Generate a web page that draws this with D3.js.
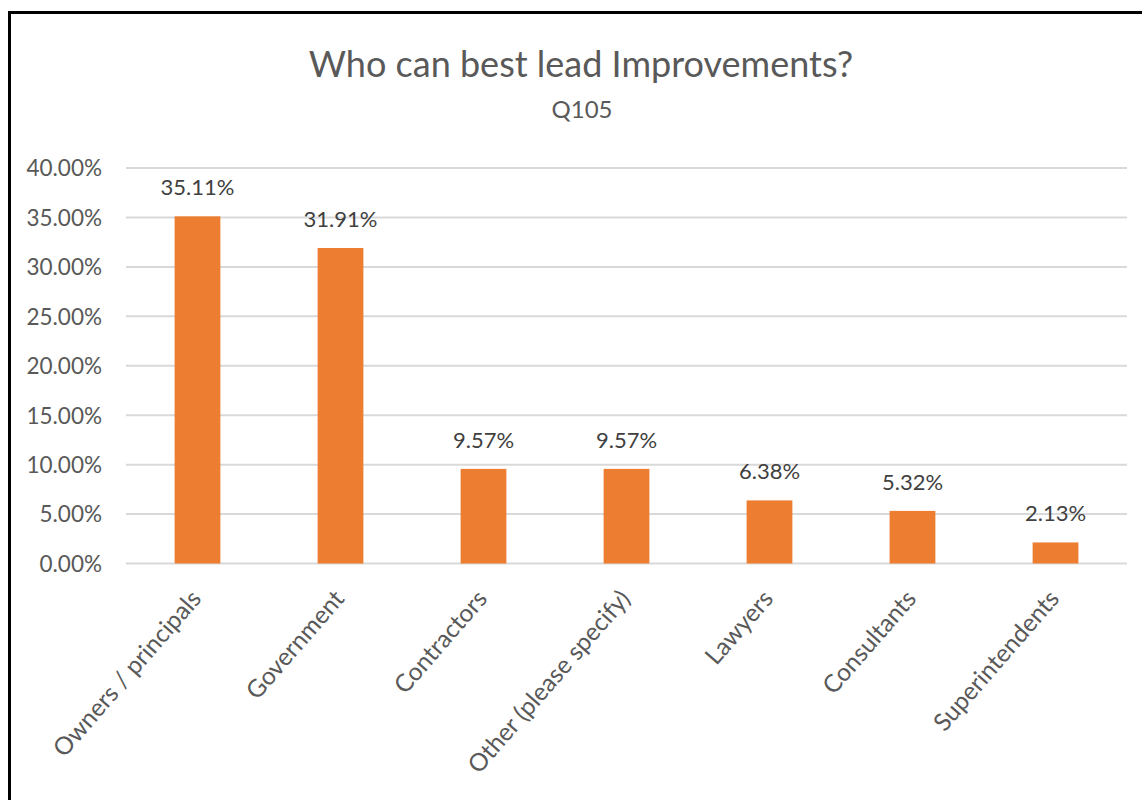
<!DOCTYPE html>
<html><head><meta charset="utf-8">
<script src="https://cdn.jsdelivr.net/npm/d3@7"></script>
<style>body{margin:0;background:#fff;} svg{display:block;}</style>
</head><body>
<svg id="chart" width="1142" height="800"></svg>
<script>
const categories = ["Owners / principals","Government","Contractors","Other (please specify)","Lawyers","Consultants","Superintendents"];
const values = [35.11, 31.91, 9.57, 9.57, 6.38, 5.32, 2.13];
const tickValues = [0,5,10,15,20,25,30,35,40];
const titleText = "Who can best lead Improvements?";
const subtitleText = "Q105";

(function(){
const svg = d3.select("#chart");
const font = "Lato, 'Open Sans', sans-serif";
const pL = 126, pR = 1127, pT = 168, pB = 563.5;

// border
svg.append("path").attr("d","M9.5,800 L9.5,12.5 L1142,12.5").attr("fill","none").attr("stroke","#000").attr("stroke-width",3);

const x = d3.scaleBand().domain(categories).range([pL,pR]).paddingInner(0.68).paddingOuter(0.34);
const y = d3.scaleLinear().domain([0,40]).range([pB,pT]);

// gridlines
svg.append("g").selectAll("line").data(tickValues).join("line")
  .attr("x1",pL).attr("x2",pR).attr("y1",d=>y(d)).attr("y2",d=>y(d))
  .attr("stroke","#d9d9d9").attr("stroke-width",2);

// y axis labels
const yAxis = d3.axisLeft(y).tickValues(tickValues).tickFormat(d=>d.toFixed(2)+"%").tickSize(0).tickPadding(0);
const yg = svg.append("g").attr("transform",`translate(${pL-24},0)`).call(yAxis);
yg.select(".domain").remove();
yg.selectAll("text").attr("font-family",font).attr("font-size",22.5).attr("fill","#595959").attr("dy","0.35em");

// bars
svg.append("g").selectAll("rect").data(values).join("rect")
  .attr("x",(d,i)=>x(categories[i])).attr("width",x.bandwidth())
  .attr("y",d=>y(d)).attr("height",d=>y(0)-y(d)).attr("fill","#ED7D31");

// data labels
svg.append("g").selectAll("text").data(values).join("text")
  .attr("x",(d,i)=>x(categories[i])+x.bandwidth()/2).attr("y",d=>y(d)-21)
  .attr("text-anchor","middle").attr("font-family",font).attr("font-size",22).attr("fill","#404040")
  .text(d=>d.toFixed(2)+"%");

// x axis labels
const xAxis = d3.axisBottom(x).tickSize(0).tickPadding(0);
const xg = svg.append("g").attr("transform",`translate(0,${pB})`).call(xAxis);
xg.select(".domain").remove();
xg.selectAll("text").attr("font-family",font).attr("font-size",24.5).attr("fill","#595959")
  .attr("text-anchor","end").attr("dy",null).attr("y",0)
  .attr("transform","translate(5,36) rotate(-49)");

// titles
svg.append("text").attr("x",581).attr("y",77).attr("text-anchor","middle")
  .attr("font-family",font).attr("font-size",36).attr("fill","#595959").text(titleText);
svg.append("text").attr("x",582).attr("y",118).attr("text-anchor","middle")
  .attr("font-family",font).attr("font-size",24).attr("fill","#595959").text(subtitleText);
})();
</script>
</body></html>
